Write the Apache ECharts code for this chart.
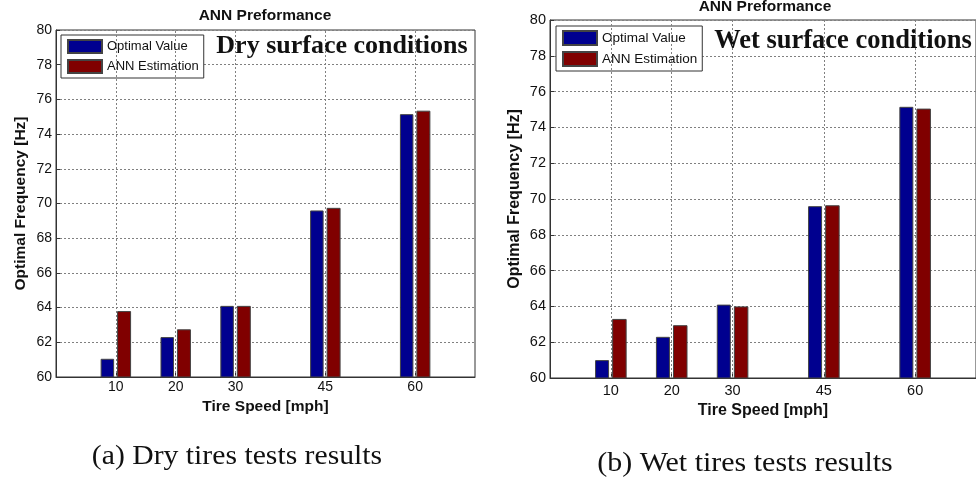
<!DOCTYPE html>
<html>
<head>
<meta charset="utf-8">
<script src="https://cdn.jsdelivr.net/npm/echarts@6/dist/echarts.min.js"></script>
<style>
html,body{margin:0;padding:0;background:#fff;}
#chart{width:976px;height:482px;}
</style>
</head>
<body>
<div id="chart"></div>
<script>
// tire speeds (mph) and optimal frequency (Hz)
const speeds = [10, 20, 30, 45, 60]
const dryOptimal = [61.05, 62.3, 64.1, 69.6, 75.15]
const dryAnn = [63.8, 62.75, 64.1, 69.75, 75.35]
const wetOptimal = [61.0, 62.3, 64.1, 69.6, 75.15]
const wetAnn = [63.3, 62.95, 64.0, 69.65, 75.05]

const names = ['Optimal Value', 'ANN Estimation']
const blue = '#00008f'
const red = '#800000'
const sans = 'Liberation Sans, Arial, sans-serif'
const serif = 'Liberation Serif, Times New Roman, serif'
const dotted = { color: '#808080', type: [2, 2], width: 1 }

function pairs(vals) {
  return speeds.map((s, i) => [s, vals[i]])
}

function xAxisOf(gridIndex, labelMargin, nameGap, fs) {
  return {
    gridIndex: gridIndex,
    type: 'value',
    min: 0,
    max: 70,
    name: 'Tire Speed [mph]',
    nameLocation: 'middle',
    nameGap: nameGap,
    nameTextStyle: { fontFamily: sans, fontWeight: 'bold', fontSize: fs + 1.5, color: '#111' },
    axisLine: { show: true, lineStyle: { color: '#333' } },
    axisTick: { show: true, inside: true, length: 4, customValues: speeds, lineStyle: { color: '#333' } },
    axisLabel: { customValues: speeds, margin: labelMargin, fontFamily: sans, fontSize: fs, color: '#111' },
    splitLine: { show: false }
  }
}

function yAxisOf(gridIndex, nameGap, fs) {
  return {
    gridIndex: gridIndex,
    type: 'value',
    min: 60,
    max: 80,
    interval: 2,
    name: 'Optimal Frequency [Hz]',
    nameLocation: 'middle',
    nameGap: nameGap,
    nameTextStyle: { fontFamily: sans, fontWeight: 'bold', fontSize: fs + 1.5, color: '#111' },
    axisLine: { show: true, lineStyle: { color: '#333' } },
    axisTick: { show: true, inside: true, length: 4, lineStyle: { color: '#333' } },
    axisLabel: { margin: 4, fontFamily: sans, fontSize: fs, color: '#111' },
    splitLine: { show: true, lineStyle: dotted }
  }
}

function legendOf(left, top, fs, ih, gap) {
  return {
    left: left,
    top: top,
    orient: 'vertical',
    data: names,
    icon: 'rect',
    itemWidth: 34,
    itemHeight: ih,
    itemGap: gap,
    padding: [4, 5, 4, 6],
    borderColor: '#333',
    borderWidth: 1,
    backgroundColor: '#fff',
    selectedMode: false,
    textStyle: { fontFamily: sans, fontSize: fs, color: '#111' }
  }
}

function barSeries(name, vals, color, idx, width) {
  return {
    name: name,
    type: 'bar',
    xAxisIndex: idx,
    yAxisIndex: idx,
    data: pairs(vals),
    barWidth: width,
    barGap: '22%',
    itemStyle: { color: color, borderColor: '#444', borderWidth: 1 }
  }
}

function gridLines(idx) {
  // vertical dotted grid at each speed tick
  return {
    type: 'line',
    xAxisIndex: idx,
    yAxisIndex: idx,
    data: [],
    markLine: {
      silent: true,
      symbol: 'none',
      label: { show: false },
      lineStyle: dotted,
      data: speeds.map(s => ({ xAxis: s }))
    }
  }
}

function label(x, y, text, font, size, weight, sx) {
  return {
    type: 'text', x: x, y: y, scaleX: sx || 1,
    style: { text: text, fontFamily: font, fontWeight: weight, fontSize: size, fill: '#111', align: 'center', verticalAlign: 'middle' }
  }
}

const chart = echarts.init(document.getElementById('chart'))

const option = {
  animation: false,
  backgroundColor: '#fff',
  grid: [
    { left: 56, top: 30, right: 501, bottom: 105, show: true, borderColor: '#333', borderWidth: 1 },
    { left: 550, top: 20, right: -9, bottom: 104, show: true, borderColor: '#333', borderWidth: 1 }
  ],
  xAxis: [xAxisOf(0, 3, 20, 14), xAxisOf(1, 5, 23, 14.5)],
  yAxis: [yAxisOf(0, 27, 14), yAxisOf(1, 27, 14.5)],
  legend: [legendOf(61, 35, 13, 13, 5), legendOf(556, 26, 13.5, 14, 5)],
  graphic: [
    label(265, 16, 'ANN Preformance', sans, 15.5, 'bold'),
    label(765, 7, 'ANN Preformance', sans, 15.5, 'bold'),
    label(342, 46, 'Dry surface conditions', serif, 26, 'bold'),
    label(843, 41, 'Wet surface conditions', serif, 26.5, 'bold'),
    label(237, 457, '(a) Dry tires tests results', serif, 27, 'normal', 1.1),
    label(745, 464, '(b) Wet tires tests results', serif, 27, 'normal', 1.11)
  ],
  series: [
    barSeries(names[0], dryOptimal, blue, 0, 13.5),
    barSeries(names[1], dryAnn, red, 0, 14),
    barSeries(names[0], wetOptimal, blue, 1, 14),
    barSeries(names[1], wetAnn, red, 1, 14.5),
    gridLines(0),
    gridLines(1)
  ]
}

chart.setOption(option)
</script>
</body>
</html>
